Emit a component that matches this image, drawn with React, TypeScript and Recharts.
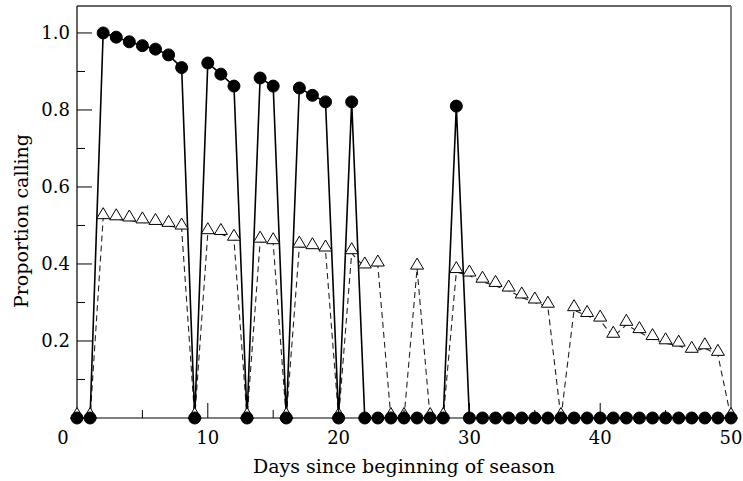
import React from 'react';
import { LineChart, Line, XAxis, YAxis, ReferenceLine } from 'recharts';

const days = [
  0, 1, 2, 3, 4, 5, 6, 7, 8, 9, 10, 11, 12, 13, 14, 15, 16, 17, 18, 19, 20, 21, 22, 23, 24, 25,
  26, 27, 28, 29, 30, 31, 32, 33, 34, 35, 36, 37, 38, 39, 40, 41, 42, 43, 44, 45, 46, 47, 48, 49, 50,
];

// filled circles, solid line
const circleValues = [
  0, 0, 1.0, 0.989, 0.977, 0.967, 0.958, 0.943, 0.91, 0, 0.922, 0.893, 0.862, 0, 0.883, 0.862, 0,
  0.857, 0.838, 0.821, 0, 0.821, 0, 0, 0, 0, 0, 0, 0, 0.81, 0, 0, 0, 0, 0, 0, 0, 0, 0, 0, 0, 0, 0,
  0, 0, 0, 0, 0, 0, 0, 0,
];

// open triangles, dashed line
const triangleValues = [
  0, 0, 0.519, 0.516, 0.513, 0.508, 0.504, 0.499, 0.492, 0, 0.48, 0.478, 0.463, 0, 0.458, 0.454, 0,
  0.445, 0.441, 0.435, 0, 0.428, 0.391, 0.396, 0, 0, 0.388, 0, 0, 0.379, 0.37, 0.354, 0.343, 0.331,
  0.313, 0.3, 0.289, 0, 0.28, 0.265, 0.253, 0.211, 0.242, 0.223, 0.205, 0.194, 0.188, 0.172, 0.181,
  0.164, 0,
];

const xTicks = [0, 5, 10, 15, 20, 25, 30, 35, 40, 45, 50];
const yTicks = [0, 0.1, 0.2, 0.3, 0.4, 0.5, 0.6, 0.7, 0.8, 0.9, 1.0];

const data = days.map((d, i) => ({ day: d, circle: circleValues[i], triangle: triangleValues[i] }));

const FONT = '"DejaVu Serif", serif';

const XTick = (props: any) => {
  const { x, y, payload } = props;
  const v = payload.value;
  const major = v % 10 === 0;
  return (
    <g>
      {v !== 0 && v !== 50 && (
        <line x1={x} x2={x} y1={y} y2={y - (major ? 15 : 8)} stroke="#000" strokeWidth={1} />
      )}
      {major && (
        <text x={v === 0 ? x - 14 : x} y={y + 26} textAnchor="middle" fontFamily={FONT} fontSize={18} fill="#000">
          {v}
        </text>
      )}
    </g>
  );
};

const YTick = (props: any) => {
  const { x, y, payload } = props;
  const v = payload.value;
  const step = Math.round(v * 10);
  const major = step % 2 === 0;
  if (step === 0) return <g />;
  return (
    <g>
      <line x1={x} x2={x + (major ? 15 : 8)} y1={y} y2={y} stroke="#000" strokeWidth={1} />
      {major && (
        <text x={x - 7} y={y} dy="0.36em" textAnchor="end" fontFamily={FONT} fontSize={18} fill="#000">
          {v.toFixed(1)}
        </text>
      )}
    </g>
  );
};

const YTitle = () => (
  <text
    transform="translate(21,221) rotate(-90)"
    textAnchor="middle"
    dominantBaseline="central"
    fontFamily={FONT}
    fontSize={19}
    fill="#000"
  >
    Proportion calling
  </text>
);

const CircleDot = (props: any) => {
  const { cx, cy, index } = props;
  return <circle key={`c${index}`} cx={cx} cy={cy} r={6} fill="#000" stroke="#000" />;
};

const TriangleDot = (props: any) => {
  const { cx, cy, index } = props;
  const pts = `${cx - 6.5},${cy + 0.5} ${cx + 6.5},${cy + 0.5} ${cx},${cy - 10.5}`;
  return <polygon key={`t${index}`} points={pts} fill="#fff" stroke="#000" strokeWidth={1} />;
};

export default function App() {
  return (
    <div style={{ position: 'absolute', left: 0, top: 0, width: 743, height: 481, background: '#fff' }}>
      <LineChart width={743} height={481} data={data} margin={{ top: 6, right: 12, left: 0, bottom: 0 }}>
        <XAxis
          dataKey="day"
          type="number"
          domain={[0, 50]}
          ticks={xTicks}
          interval={0}
          height={63}
          tickSize={0}
          tickMargin={0}
          tickLine={false}
          tick={<XTick />}
          axisLine={{ stroke: '#000', strokeWidth: 1.2 }}
          label={{
            value: 'Days since beginning of season',
            position: 'insideBottom',
            offset: 8,
            fontFamily: FONT,
            fontSize: 19,
            fill: '#000',
          }}
        />
        <YAxis
          type="number"
          domain={[0, 1.07]}
          ticks={yTicks}
          interval={0}
          width={77}
          tickSize={0}
          tickMargin={0}
          tickLine={false}
          tick={<YTick />}
          axisLine={{ stroke: '#000', strokeWidth: 1.2 }}
          label={{ content: YTitle }}
        />
        <ReferenceLine y={1.07} stroke="#333" strokeWidth={1.5} />
        <ReferenceLine x={50} stroke="#808080" strokeWidth={2} />
        <Line
          dataKey="triangle"
          type="linear"
          stroke="#222"
          strokeWidth={1.1}
          strokeDasharray="6 4"
          dot={TriangleDot}
          activeDot={false}
          isAnimationActive={false}
        />
        <Line
          dataKey="circle"
          type="linear"
          stroke="#000"
          strokeWidth={1.6}
          dot={CircleDot}
          activeDot={false}
          isAnimationActive={false}
        />
      </LineChart>
    </div>
  );
}
